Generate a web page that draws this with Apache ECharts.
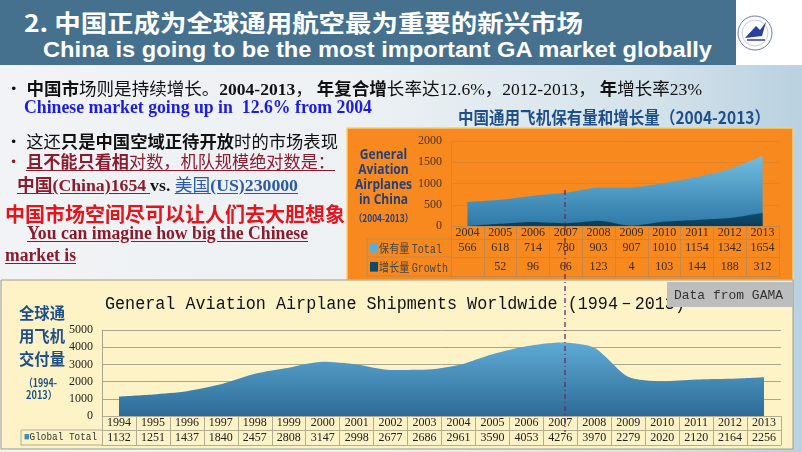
<!DOCTYPE html>
<html><head><meta charset="utf-8">
<script src="https://cdn.jsdelivr.net/npm/echarts@6/dist/echarts.min.js"></script>
<style>
html,body{margin:0;padding:0;width:802px;height:452px;overflow:hidden;}
body{position:relative;background:linear-gradient(90deg,#f1f3f5 0%,#edf1f4 45%,#d3e2eb 82%,#b9d1e0 100%);font-family:"Noto Sans CJK SC",sans-serif;}
#chart{position:absolute;left:0;top:0;width:802px;height:452px;z-index:1;}
.t{position:absolute;white-space:nowrap;z-index:3;transform-origin:0 50%;}
.cjk{font-family:"Noto Sans CJK SC",sans-serif;}
.ser{font-family:"Liberation Serif",serif;}
.mono{font-family:"Liberation Mono",monospace;}
b{font-weight:bold;}
u{text-decoration:underline;text-underline-offset:2px;}
</style></head><body>
<div style="position:absolute;left:0;top:0;width:736px;height:65px;background:#45718f;z-index:2"></div>
<div style="position:absolute;left:736px;top:0;width:66px;height:65px;background:#fff;z-index:2">
<svg width="66" height="65" viewBox="0 0 66 65">
<circle cx="19" cy="33" r="17" fill="none" stroke="#6a78b8" stroke-width="1"/>
<circle cx="19" cy="33" r="13" fill="none" stroke="#a0a8d0" stroke-width="0.6"/>
<path d="M9 38 L20 26 L24 30 L30 22 L26 36 Z" fill="#2b3f9e"/>
<path d="M11 40 L29 40" stroke="#2b3f9e" stroke-width="1.5"/>
</svg></div>

<div id="chart"></div>

<!-- header -->
<div class="t cjk" data-w="559" data-cy="21" style="left:24px;font-size:24px;color:#fff;font-weight:bold;">2. 中国正成为全球通用航空最为重要的新兴市场</div>
<div class="t" data-w="669" data-cy="50" style="left:43px;font-size:22px;color:#fff;font-weight:bold;font-family:'Liberation Sans',sans-serif;">China is going to be the most important GA market globally</div>

<!-- left text -->
<div class="t cjk" data-w="697" data-cy="87" style="left:5px;font-size:17px;color:#111;">• <b>中国市</b>场则是持续增长。<b class="ser">2004-2013</b>， <b>年复合增</b>长率达<span class="ser">12.6%</span>，<span class="ser">2012-2013</span>， <b>年</b>增长率<span class="ser">23%</span></div>
<div class="t ser" data-w="348" data-cy="107" style="left:24px;font-size:18px;color:#1c1ce0;font-weight:bold;">Chinese market going up in&nbsp; 12.6% from 2004</div>
<div class="t cjk" data-w="333" data-cy="140" style="left:5px;font-size:17px;color:#111;">• 这还<b>只是中国空域正待开放</b>时的市场表现</div>
<div class="t cjk" data-w="330" data-cy="160" style="left:5px;font-size:17px;color:#8b1c30;">• <u><b>且不能只看相</b>对数，机队规模绝对数是：</u></div>
<div class="t cjk" data-w="281" data-cy="183" style="left:17px;font-size:17px;color:#8b1c30;"><u><b>中国<span class="ser">(China)1654</span></b> </u><b class="ser" style="color:#111"> vs. </b><u style="color:#2a5aa8">美国<b class="ser">(US)230000</b></u></div>
<div class="t cjk" data-w="340" data-cy="213" style="left:5px;font-size:20px;color:#e3141b;font-weight:bold;">中国市场空间尽可以让人们去大胆想象</div>
<div class="t ser" data-w="281" data-cy="233" style="left:27px;font-size:18px;color:#8c1a2c;font-weight:bold;"><u>You can imagine how big the Chinese</u></div>
<div class="t ser" data-w="71" data-cy="255" style="left:5px;font-size:18px;color:#8c1a2c;font-weight:bold;"><u>market is</u></div>

<!-- China chart texts -->
<div class="t cjk" data-w="312" data-cy="116" style="left:458px;font-size:17px;color:#1f4f8a;font-weight:bold;">中国通用飞机保有量和增长量（2004-2013）</div>
<div class="t" data-w="57" data-cy="176" style="left:355px;font-size:15px;line-height:15px;color:#23407a;font-weight:bold;text-align:center;font-family:'Open Sans',sans-serif;white-space:pre;">General
Aviation
Airplanes
in China</div>
<div class="t cjk" data-w="59" data-cy="217" style="left:354px;font-size:10px;color:#23407a;font-weight:bold;">（2004-2013）</div>
<div class="t cjk" data-w="73" data-cy="248" style="left:369px;font-size:12px;color:#444;"><span style="color:#5ab0dc">■</span>保有量 <span class="mono">Total</span></div>
<div class="t cjk" data-w="79" data-cy="267" style="left:369px;font-size:12px;color:#444;"><span style="color:#0f4a6c">■</span>增长量 <span class="mono">Growth</span></div>

<!-- World chart texts -->
<div class="t mono" data-w="580" data-cy="303" style="left:105px;font-size:19px;color:#111;">General Aviation Airplane Shipments Worldwide (1994－2013)</div>
<div style="position:absolute;left:667px;top:282px;width:126px;height:25px;background:#bdbdbd;z-index:4"></div>
<div class="t mono" data-w="109" data-cy="295" style="left:674px;font-size:13px;color:#333;z-index:5;">Data from GAMA</div>
<div class="t cjk" data-w="46" data-cy="312" style="left:19px;font-size:16px;color:#1f4f8a;font-weight:bold;">全球通</div>
<div class="t cjk" data-w="46" data-cy="335" style="left:19px;font-size:16px;color:#1f4f8a;font-weight:bold;">用飞机</div>
<div class="t cjk" data-w="46" data-cy="358" style="left:19px;font-size:16px;color:#1f4f8a;font-weight:bold;">交付量</div>
<div class="t cjk" data-w="33" data-cy="382" style="left:24px;font-size:11px;color:#1f4f8a;font-weight:bold;">（1994-</div>
<div class="t cjk" data-w="31" data-cy="394" style="left:26px;font-size:11px;color:#1f4f8a;font-weight:bold;">2013）</div>
<div class="t mono" data-w="73" data-cy="437" style="left:24px;font-size:11px;color:#333;"><span style="color:#3d8cc0">■</span>Global Total</div>

<script>
// ---- data ----
const chinaYears = ['2004','2005','2006','2007','2008','2009','2010','2011','2012','2013'];
const chinaTotal = [566,618,714,780,903,907,1010,1154,1342,1654];
const chinaGrowth = [null,52,96,66,123,4,103,144,188,312];
const chinaYMin = 0, chinaYMax = 2000, chinaYStep = 500;

const worldYears = ['1994','1995','1996','1997','1998','1999','2000','2001','2002','2003','2004','2005','2006','2007','2008','2009','2010','2011','2012','2013'];
const worldTotal = [1132,1251,1437,1840,2457,2808,3147,2998,2677,2686,2961,3590,4053,4276,3970,2279,2020,2120,2164,2256];
const worldYMin = 0, worldYMax = 5000, worldYStep = 1000;

// ---- text fitting ----
function fitAll(){
  document.querySelectorAll('[data-w]').forEach(el=>{
    el.style.transform='none';
    const r = el.getBoundingClientRect();
    const cy = +el.dataset.cy;
    el.style.top = (cy - r.height/2) + 'px';
    el.style.transform = 'scaleX(' + (+el.dataset.w / r.width) + ')';
  });
}
fitAll();
if (document.fonts && document.fonts.ready) document.fonts.ready.then(fitAll);

// ---- chart ----
const chart = echarts.init(document.getElementById('chart'), null, {renderer:'canvas'});
const serif = 'Liberation Serif';
const upLine = '#c4874c', upSplit = '#e0842c';
const loLine = '#b3ac90', loSplit = '#aba58c';
const plain = v => String(v);

function tableAxis(grid, data, offset, tickLen, margin, color, showLabel, labelColor, fs){
  return {
    type:'category', gridIndex:grid, data:data, position:'bottom', offset:offset,
    boundaryGap:true,
    axisLine:{show:true, lineStyle:{color:color, width:1}},
    axisTick:{show:tickLen>0, length:tickLen, interval:0, lineStyle:{color:color}},
    axisLabel:{show:showLabel, interval:0, margin:margin, fontFamily:serif, fontSize:fs, color:labelColor},
    splitLine:{show:false}
  };
}

const option = {
  backgroundColor:'transparent',
  animation:false,
  graphic:[
    {type:'rect', z:-10, shape:{x:347,y:128,width:446,height:152}, style:{fill:'#f7891f', stroke:'#f5cf7a', lineWidth:1.5}},
    {type:'rect', z:-10, shape:{x:1,y:280,width:792,height:169}, style:{fill:'#fdf3c6', stroke:'#9c9a90', lineWidth:1}},
    {type:'polyline', z:5, shape:{points:[[451,239],[367,239],[367,276],[451,276]]}, style:{fill:null, stroke:upLine, lineWidth:1}},
    {type:'line', z:5, shape:{x1:367,y1:257,x2:451,y2:257}, style:{stroke:upLine, lineWidth:1}},
    {type:'polyline', z:5, shape:{points:[[102,430],[21,430],[21,445],[102,445]]}, style:{fill:null, stroke:loLine, lineWidth:1}},
    {type:'line', z:50, shape:{x1:565,y1:190,x2:565,y2:432}, style:{stroke:'#6a2a66', lineWidth:1.3, lineDash:[5,3,1,3]}}
  ],
  grid:[
    {left:451, top:141, width:328, height:85},
    {left:102, top:330, width:679, height:86}
  ],
  xAxis:[
    tableAxis(0, chinaYears, 0, 13, 1, upLine, true, '#3a2a1a', 12),
    tableAxis(0, chinaTotal.map(String), 13, 18, 3, upLine, true, '#3a2a1a', 12),
    tableAxis(0, chinaGrowth.map(v=>v==null?'':String(v)), 31, 19, 4, upLine, true, '#3a2a1a', 12),
    tableAxis(0, chinaYears, 50, 0, 0, upLine, false, '#000', 12),
    tableAxis(1, worldYears, 0, 14, 1, loLine, true, '#222', 12),
    tableAxis(1, worldTotal.map(String), 14, 15, 2, loLine, true, '#222', 12),
    tableAxis(1, worldYears, 29, 0, 0, loLine, false, '#000', 12)
  ],
  yAxis:[
    {type:'value', gridIndex:0, min:chinaYMin, max:chinaYMax, interval:chinaYStep,
     axisLine:{show:true, lineStyle:{color:upSplit}}, axisTick:{show:false},
     axisLabel:{margin:9, fontFamily:serif, fontSize:12, color:'#4a3520', formatter:plain},
     splitLine:{lineStyle:{color:upSplit, width:1}}},
    {type:'value', gridIndex:1, min:worldYMin, max:worldYMax, interval:worldYStep,
     axisLine:{show:true, lineStyle:{color:loSplit}}, axisTick:{show:false},
     axisLabel:{margin:9, fontFamily:serif, fontSize:12, color:'#222', formatter:plain},
     splitLine:{lineStyle:{color:loSplit, width:1}}}
  ],
  series:[
    {type:'line', name:'保有量 Total', xAxisIndex:0, yAxisIndex:0, data:chinaTotal, smooth:0.25,
     symbol:'none', lineStyle:{width:0}, z:3,
     areaStyle:{opacity:1, color:new echarts.graphic.LinearGradient(0,0,0,1,[{offset:0,color:'#72bde0'},{offset:1,color:'#2d78a6'}])}},
    {type:'line', name:'增长量 Growth', xAxisIndex:0, yAxisIndex:0, data:chinaGrowth.map(v=>v==null?0:v), smooth:0.25,
     symbol:'none', lineStyle:{width:0}, z:4,
     areaStyle:{opacity:1, color:new echarts.graphic.LinearGradient(0,0,0,1,[{offset:0,color:'#0f4f72'},{offset:1,color:'#0a3c58'}])}},
    {type:'line', name:'Global Total', xAxisIndex:4, yAxisIndex:1, data:worldTotal, smooth:0.25,
     symbol:'none', lineStyle:{width:0}, z:3,
     areaStyle:{opacity:1, color:new echarts.graphic.LinearGradient(0,0,0,1,[{offset:0,color:'#5eabd5'},{offset:1,color:'#2d6b97'}])}}
  ]
};
chart.setOption(option);
</script>
</body></html>
